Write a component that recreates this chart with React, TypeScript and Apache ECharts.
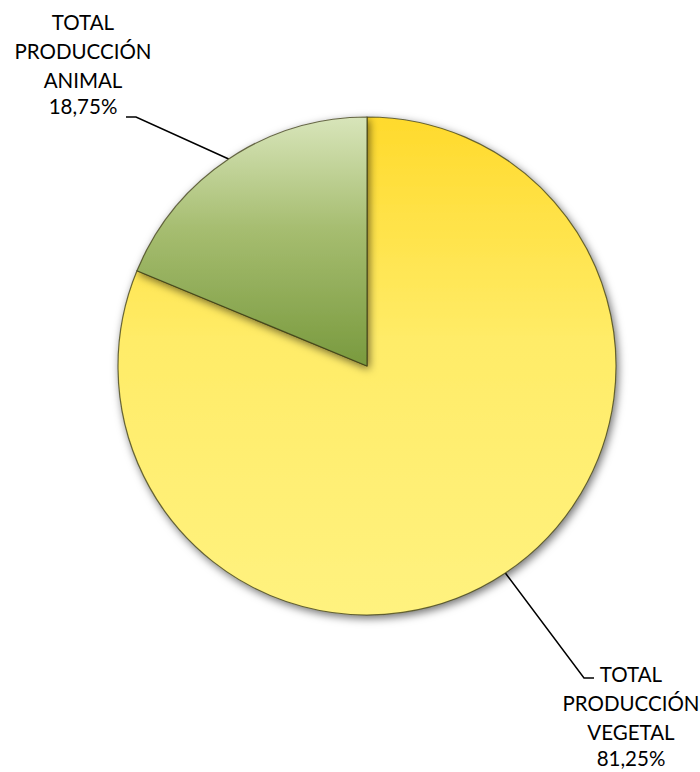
import React, { useEffect, useRef } from "react";
import * as echarts from "echarts";

// ---- data ----
const categories: string[] = ["TOTAL\nPRODUCCIÓN\nVEGETAL", "TOTAL\nPRODUCCIÓN\nANIMAL"];
const shares: number[] = [81.25, 18.75];

// ---- styling ----
const sliceTopColors = ["#FFDA2C", "#D8E5BA"];
const sliceMidColors = ["#FFEC68", "#A6BD70"];
const sliceBottomColors = ["#FFF27F", "#799A3E"];

const CENTER: [number, number] = [367, 366];
const RADIUS = 249;

// label placement (layout only)
const labelPlacement = [
  { x: 631, y: 659, elbow: [584, 678], end: [594, 678] },
  { x: 83, y: 7, elbow: [136, 117], end: [126, 117] },
];

function formatPct(v: number): string {
  return v.toFixed(2).replace(".", ",") + "%";
}

export default function App() {
  const ref = useRef<HTMLDivElement>(null);
  useEffect(() => {
    document.body.style.margin = "0";
    if (!ref.current) return;
    const chart = echarts.init(ref.current, undefined, { renderer: "svg" });
    const total = shares.reduce((a, b) => a + b, 0);
    const midAngles: number[] = [];
    let acc = 0;
    shares.forEach((v) => {
      const frac = v / total;
      midAngles.push((acc + frac / 2) * 360);
      acc += frac;
    });
    chart.setOption({
      animation: false,
      backgroundColor: "#ffffff",
      series: [
        {
          type: "pie",
          center: CENTER,
          radius: RADIUS,
          startAngle: 90,
          clockwise: true,
          data: categories.map((name, i) => ({
            name,
            value: shares[i],
            itemStyle: {
              color: {
                type: "linear",
                x: 0,
                y: 0,
                x2: 0,
                y2: 1,
                colorStops: [
                  { offset: 0, color: sliceTopColors[i] },
                  { offset: 0.45, color: sliceMidColors[i] },
                  { offset: 1, color: sliceBottomColors[i] },
                ],
              },
            },
          })),
          itemStyle: {
            borderColor: "rgba(60,60,20,0.75)",
            borderWidth: 1.2,
            shadowBlur: 8,
            shadowColor: "rgba(0,0,0,0.55)",
            shadowOffsetX: 2,
            shadowOffsetY: 3,
          },
          emphasis: { disabled: true },
          label: {
            show: true,
            position: "outside",
            formatter: (p: any) => p.name + "\n{last|" + formatPct(p.value) + "}",
            fontFamily: "Lato, 'Open Sans', sans-serif",
            fontSize: 20.5,
            lineHeight: 29,
            color: "#000000",
            align: "center",
            rich: {
              last: {
                fontFamily: "Lato, 'Open Sans', sans-serif",
                fontSize: 20.5,
                lineHeight: 24,
                color: "#000000",
              },
            },
          },
          labelLine: {
            show: true,
            lineStyle: { color: "#000000", width: 1.5 },
          },
          labelLayout: (params: any) => {
            const i = params.dataIndex;
            const lp = labelPlacement[i];
            const a = (midAngles[i] * Math.PI) / 180;
            const start = [CENTER[0] + RADIUS * Math.sin(a), CENTER[1] - RADIUS * Math.cos(a)];
            return {
              x: lp.x,
              y: lp.y,
              align: "center",
              verticalAlign: "top",
              labelLinePoints: [start, lp.elbow, lp.end],
            };
          },
        },
      ],
    });
    return () => chart.dispose();
  }, []);
  return <div ref={ref} style={{ width: 700, height: 772 }} />;
}
